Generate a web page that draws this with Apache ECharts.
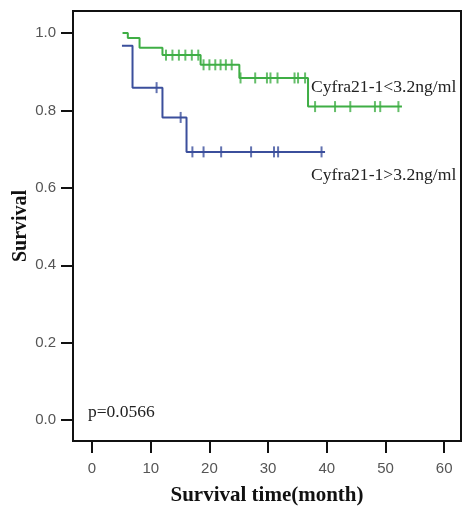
<!DOCTYPE html>
<html>
<head>
<meta charset="utf-8">
<script src="https://cdn.jsdelivr.net/npm/echarts@6/dist/echarts.min.js"></script>
<style>html,body{margin:0;padding:0;background:#fff;}#c{width:462px;height:506px;}</style>
</head>
<body>
<div id="c"></div>
<script>
// Kaplan-Meier curves (time in months, survival proportion)
const lowTimes = [5.2, 6.1, 8.1, 12.0, 18.5, 25.1, 36.8, 52.8];
const lowSurv  = [1.0, 0.987, 0.962, 0.943, 0.918, 0.884, 0.81, 0.81];
const highTimes = [5.1, 6.9, 12.0, 16.1, 39.7];
const highSurv  = [0.967, 0.859, 0.782, 0.693, 0.693];

// censored observations
const lowCensorTimes = [12.6, 13.7, 14.8, 15.9, 17.0, 18.1, 19.0, 20.0, 21.0, 21.9, 22.8, 23.8,
  25.3, 27.8, 29.8, 30.4, 31.6, 34.5, 35.1, 36.3, 38.0, 41.4, 44.0, 48.2, 49.1, 52.2];
const lowCensorSurv = [0.943, 0.943, 0.943, 0.943, 0.943, 0.943, 0.918, 0.918, 0.918, 0.918, 0.918, 0.918,
  0.884, 0.884, 0.884, 0.884, 0.884, 0.884, 0.884, 0.884, 0.81, 0.81, 0.81, 0.81, 0.81, 0.81];
const highCensorTimes = [11.0, 15.1, 17.1, 19.0, 22.0, 27.1, 31.0, 31.7, 39.1];
const highCensorSurv  = [0.859, 0.782, 0.693, 0.693, 0.693, 0.693, 0.693, 0.693, 0.693];

const xTicks = [0, 10, 20, 30, 40, 50, 60];
const yTicks = [0.0, 0.2, 0.4, 0.6, 0.8, 1.0];
const groupNames = ['Cyfra21-1<3.2ng/ml', 'Cyfra21-1>3.2ng/ml'];
const pText = 'p=0.0566';

const zip = (a, b) => a.map((v, i) => [v, b[i]]);
const green = '#3fae45';
const blue = '#3b4f9c';

const chart = echarts.init(document.getElementById('c'), null, {renderer: 'canvas'});
chart.setOption({
  animation: false,
  backgroundColor: '#fff',
  grid: {left: 73, top: 11, right: 1, bottom: 65, outerBoundsMode: 'none', containLabel: false,
    show: true, borderColor: '#111', borderWidth: 2, backgroundColor: 'transparent'},
  xAxis: {
    type: 'value', min: -3.24, max: 62.86,
    name: 'Survival time(month)', nameLocation: 'middle', nameGap: 44, nameMoveOverlap: false,
    nameTextStyle: {fontFamily: 'Liberation Serif', fontWeight: 'bold', fontSize: 21, color: '#111'},
    axisLine: {show: true, onZero: false, lineStyle: {color: '#111', width: 2}},
    axisTick: {show: true, inside: false, length: 12, customValues: xTicks, lineStyle: {color: '#111', width: 2}},
    axisLabel: {customValues: xTicks, margin: 20, fontFamily: 'Liberation Sans', fontSize: 15, color: '#555'},
    splitLine: {show: false}
  },
  yAxis: {
    type: 'value', min: -0.054, max: 1.057,
    name: 'Survival', nameLocation: 'middle', nameGap: 42, nameRotate: 90, nameMoveOverlap: false,
    nameTextStyle: {fontFamily: 'Liberation Serif', fontWeight: 'bold', fontSize: 20, color: '#111'},
    axisLine: {show: true, onZero: false, lineStyle: {color: '#111', width: 2}},
    axisTick: {show: true, inside: false, length: 12, customValues: yTicks, lineStyle: {color: '#111', width: 2}},
    axisLabel: {customValues: yTicks, margin: 17, fontFamily: 'Liberation Sans', fontSize: 15, color: '#555',
      formatter: v => v.toFixed(1)},
    splitLine: {show: false}
  },
  series: [
    {type: 'line', step: 'end', data: zip(lowTimes, lowSurv), showSymbol: false,
      lineStyle: {color: green, width: 2}, z: 3},
    {type: 'line', step: 'end', data: zip(highTimes, highSurv), showSymbol: false,
      lineStyle: {color: blue, width: 2}, z: 3},
    {type: 'scatter', data: zip(lowCensorTimes, lowCensorSurv), symbol: 'rect', symbolSize: [2, 11],
      itemStyle: {color: green}, z: 4},
    {type: 'scatter', data: zip(highCensorTimes, highCensorSurv), symbol: 'rect', symbolSize: [2, 11],
      itemStyle: {color: blue}, z: 4}
  ],
  graphic: [
    {type: 'text', left: 311, top: 78, style: {text: groupNames[0], fontFamily: 'Liberation Serif', fontSize: 17.6, fill: '#222'}},
    {type: 'text', left: 311, top: 166, style: {text: groupNames[1], fontFamily: 'Liberation Serif', fontSize: 17.6, fill: '#222'}},
    {type: 'text', left: 88, top: 403, style: {text: pText, fontFamily: 'Liberation Serif', fontSize: 17.5, fill: '#222'}}
  ]
});
</script>
</body>
</html>
